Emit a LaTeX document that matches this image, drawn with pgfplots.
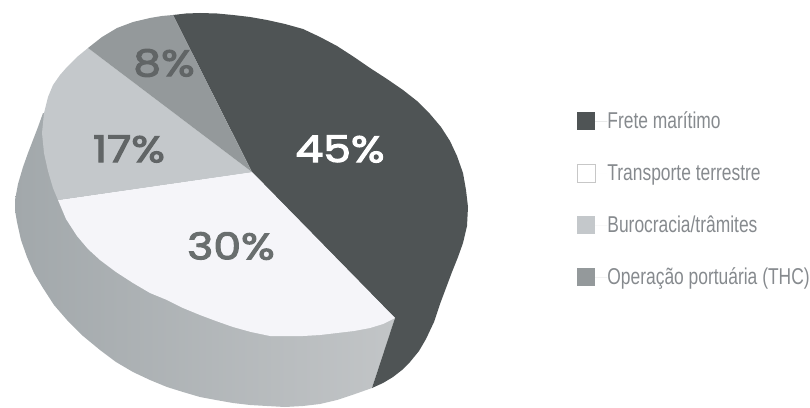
\documentclass[border=0pt]{standalone}
\usepackage{fontspec}
\setmainfont{Liberation Sans}
\newfontfamily\pctfont[FakeBold=3,FakeStretch=1.2]{Poppins}
\usepackage{pgfplots}
\pgfplotsset{compat=1.18}
\definecolor{darkslice}{HTML}{4F5455}
\definecolor{whiteslice}{HTML}{F5F5F9}
\definecolor{lightslice}{HTML}{C4C8CB}
\definecolor{midslice}{HTML}{94999B}
\definecolor{sideleft}{HTML}{A2A8AB}
\definecolor{sideright}{HTML}{C2C5C7}
\definecolor{legendtext}{HTML}{868A8E}
\newcommand{\legtxt}[1]{\scalebox{0.76}[1]{\fontsize{23}{23}\selectfont #1}}
\begin{document}
\begin{tikzpicture}
\begin{axis}[
  scale only axis, width=810bp, height=407bp,
  xmin=0, xmax=810, ymin=0, ymax=407, y dir=reverse,
  axis lines=none, clip=true,
  legend cell align=left,
  legend style={draw=none, fill=none, at={(axis cs:577,112)}, anchor=north west,
    row sep=33.5bp, inner sep=0pt, outer sep=0pt,
    nodes={text=legendtext, inner sep=0pt, anchor=west}},
  legend image code/.code={
    \path (0bp,0bp) -- (30bp,0bp);
    \path[#1] (0bp,-9bp) rectangle (18bp,9bp);
  },
]
% keeps the full drawing area on the page
\path (axis cs:0,0) rectangle (axis cs:810,407);
% side wall of the cylinder
\addplot[draw=none, left color=sideleft, right color=sideright, forget plot] coordinates {
 (252,172) (43,113) (38,127) (33,140) (28,153) (23,167) (18,184) (15,200) (15,210) (17,222) (21,240) (27,257)
 (34,273) (43,288) (54,305) (67,320) (83,336) (100,350) (116,362) (133,372) (150,380) (167,387) (183,392)
 (200,397) (216,400) (233,403) (250,405) (267,406) (285,407) (303,406) (320,404) (337,400) (355,394) (372,388) (395,318)
} --cycle;
% 45 % wedge with its wall
\addplot[draw=none, fill=darkslice] coordinates {
 (252,172) (173,15) (186,13.5) (200,13) (217,13.5) (233,15) (250,17) (267,20) (285,24) (303,29) (320,37) (337,46)
 (354,57) (370,68) (387,79) (403,90) (417,101) (430,114) (441,127) (450,141) (457,156) (463,173) (466,190) (468,207)
 (467,226) (463,243) (458,257) (452,272) (446,288) (440,304) (434,322) (426,339) (419,351) (410,362) (402,370)
 (393,377) (383,383) (372,388) (395,318)
} --cycle;
\addlegendentry{\legtxt{Frete marítimo}}
% 30 % wedge; its legend swatch carries a thin outline
\addplot[draw=none, fill=whiteslice, legend image code/.code={
    \path (0bp,0bp) -- (30bp,0bp);
    \path[fill=white, draw=black!22, line width=0.8bp] (0bp,-9bp) rectangle (18bp,9bp);
  }] coordinates {
 (252,172) (395,318) (383,324) (370,328) (354,331) (337,333) (320,335) (303,336) (286,336) (270,336) (251,332)
 (233,327) (216,321) (200,315) (183,308) (167,300) (150,293) (133,283) (116,272) (100,260) (88,249) (77,236) (66,219) (58,200)
} --cycle;
\addlegendentry{\legtxt{Transporte terrestre}}
% 17 % wedge
\addplot[draw=none, fill=lightslice] coordinates {
 (252,172) (58,200) (53,188) (48,171) (44,153) (42,133) (44,113) (48,97) (53,85) (60,75) (67,67) (77,57) (88,48)
} --cycle;
\addlegendentry{\legtxt{Burocracia/trâmites}}
% 8 % wedge
\addplot[draw=none, fill=midslice] coordinates {
 (252,172) (88,48) (102,37) (117,28) (133,22) (150,18) (162,16) (173,15)
} --cycle;
\addlegendentry{\legtxt{Operação portuária (THC)}}
% value labels
\node[text=white, font=\pctfont\fontsize{37}{37}\selectfont] at (axis cs:340,149) {45\%};
\node[text=darkslice!85!white, font=\pctfont\fontsize{37}{37}\selectfont] at (axis cs:231,246) {30\%};
\node[text=darkslice!90!white, font=\pctfont\fontsize{37}{37}\selectfont] at (axis cs:129,149) {17\%};
\node[text=darkslice!90!white, font=\pctfont\fontsize{37}{37}\selectfont] at (axis cs:164,63) {8\%};
\end{axis}
\end{tikzpicture}
\end{document}
